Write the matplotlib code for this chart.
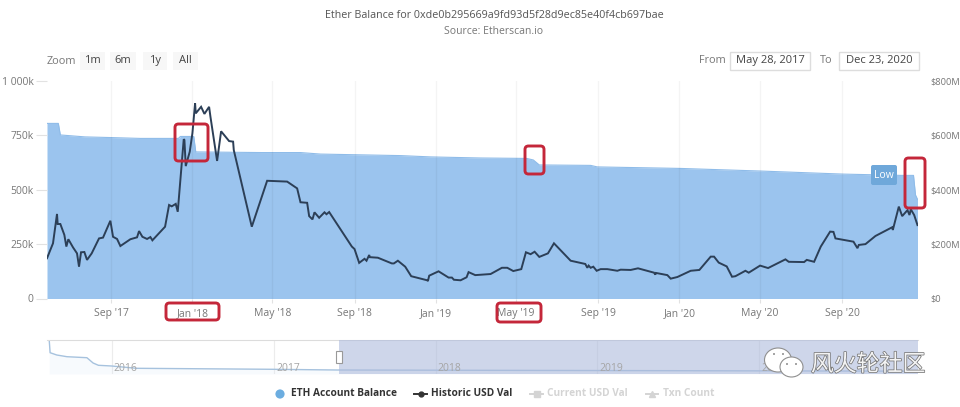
import datetime as dt
import matplotlib
matplotlib.use("Agg")
import matplotlib.pyplot as plt
from matplotlib.patches import FancyBboxPatch, Ellipse, Circle
from matplotlib.lines import Line2D
import matplotlib.patheffects as pe

plt.rcParams['font.family'] = ['Open Sans', 'Noto Sans CJK SC', 'DejaVu Sans']

TITLE = "Ether Balance for 0xde0b295669a9fd93d5f28d9ec85e40f4cb697bae"
SUBTITLE = "Source: Etherscan.io"
START = dt.date(2017, 5, 28)
NAV_START = dt.date(2016, 1, 1)

# days since START, ETH balance in thousands
balance_days = [0, 17, 20, 57, 95, 140, 197, 200, 220, 223, 320, 380, 410, 530, 575, 650, 719, 729, 738,
                815, 825, 950, 1070, 1193, 1280, 1299, 1302, 1305]
balance_k = [805, 805, 752, 743, 740, 736, 736, 745, 745, 674, 671, 671, 664, 657, 651, 646, 644, 637, 614,
             612, 605, 598, 586, 572, 566, 566, 476, 456]

# days since START, historic value in $M
usd_days = [0, 9, 15, 16, 20, 26, 29, 32, 39, 45, 48, 51, 56, 60, 67, 78, 84, 95, 99, 105, 110, 125, 135, 138,
            143, 150, 155, 158, 177, 183, 187, 193, 196, 205, 206, 208, 214, 218, 222, 223, 231, 236, 243, 245,
            255, 261, 273, 279, 280, 307, 330, 360, 375, 380, 390, 393, 398, 401, 408, 416, 419, 423, 457, 461,
            468, 476, 479, 483, 484, 496, 517, 520, 526, 537, 546, 570, 571, 573, 587, 602, 607, 610, 620, 629,
            632, 642, 660, 665, 682, 690, 699, 711, 718, 725, 731, 738, 751, 760, 785, 807, 810, 812, 815, 819,
            824, 830, 840, 855, 860, 875, 886, 910, 912, 913, 930, 935, 945, 965, 978, 995, 1000, 1007, 1019,
            1027, 1032, 1047, 1052, 1069, 1081, 1107, 1112, 1135, 1139, 1150, 1160, 1174, 1179, 1182, 1209,
            1215, 1217, 1227, 1242, 1267, 1268, 1277, 1282, 1290, 1293, 1295, 1300, 1305]
usd_m = [148, 203, 311, 274, 274, 234, 191, 218, 188, 166, 117, 170, 171, 142, 166, 221, 224, 286, 227, 219, 193,
         218, 225, 248, 227, 219, 226, 214, 264, 344, 339, 348, 319, 586, 583, 487, 540, 608, 718, 681, 705, 679,
         705, 669, 506, 615, 579, 577, 546, 264, 433, 430, 405, 354, 352, 303, 291, 317, 297, 317, 310, 318, 191,
         182, 131, 146, 139, 160, 152, 150, 129, 129, 139, 117, 82, 67, 64, 84, 100, 77, 77, 69, 67, 78, 97, 86,
         89, 90, 113, 113, 101, 108, 170, 163, 172, 153, 166, 203, 139, 127, 113, 121, 113, 117, 102, 108, 108,
         102, 106, 105, 111, 95, 88, 94, 86, 73, 79, 102, 105, 154, 154, 132, 118, 80, 82, 102, 95, 121, 112, 144,
         135, 134, 142, 135, 191, 246, 245, 221, 209, 185, 197, 200, 230, 262, 252, 338, 303, 325, 307, 328, 307, 270]

# navigator: days since NAV_START, balance in thousands
nav_days = [-141, -139, -124, -101, -56, -42, -30, 0, 56, 363, 507, 1818]
nav_k = [6834, 4281, 3819, 3477, 3276, 2211, 1749, 1608, 1146, 945, 804, 566]

x_ticks = ["2017-09-01", "2018-01-01", "2018-05-01", "2018-09-01", "2019-01-01", "2019-05-01", "2019-09-01",
           "2020-01-01", "2020-05-01", "2020-09-01"]
x_labels = ["Sep '17", "Jan '18", "May '18", "Sep '18", "Jan '19", "May '19", "Sep '19", "Jan '20", "May '20", "Sep '20"]
left_ticks = [0, 250, 500, 750, 1000]
left_labels = ["0", "250k", "500k", "750k", "1 000k"]
right_ticks = [0, 200, 400, 600, 800]
right_labels = ["$0", "$200M", "$400M", "$600M", "$800M"]
nav_years = [2016, 2017, 2018, 2019, 2020]

AREA = "#9bc4ee"
LINE = "#2c3f57"
GRAY = "#777777"
W, H = 960, 407


def days(base, seq):
    return [base + dt.timedelta(days=d) for d in seq]


def make_axes(l, t, r, b, **kw):
    return fig.add_axes([l / W, 1 - b / H, (r - l) / W, (b - t) / H], **kw)


fig = plt.figure(figsize=(9.6, 4.07), dpi=100, facecolor="white")

# main chart
ax = make_axes(47, 81, 917.5, 298.5)
ax.fill_between(days(START, balance_days), balance_k, 0, color=AREA, lw=0, zorder=1)
ax.plot(days(START, balance_days), balance_k, color="#8fbce9", lw=0.8, zorder=1.5)
ax.set_xlim(START, START + dt.timedelta(days=1305))
ax.set_ylim(0, 1000)
ax.set_yticks(left_ticks, left_labels)
ax.set_xticks([dt.date.fromisoformat(d) for d in x_ticks], x_labels)
ax.grid(axis="x", color="black", alpha=0.045, lw=1, zorder=2)
ax.tick_params(axis="y", length=8, width=0.8, color="#e2e2e2", labelsize=7.5, labelcolor=GRAY, pad=1.5)
ax.tick_params(axis="x", length=3, width=0.8, color="#e2e2e2", labelsize=7.5, labelcolor=GRAY, pad=4)
for s in ax.spines.values():
    s.set_visible(False)

ax2 = ax.twinx()
ax2.plot(days(START, usd_days), usd_m, color=LINE, lw=1.4, zorder=3, solid_joinstyle="miter")
ax2.set_ylim(0, 800)
ax2.set_yticks(right_ticks, right_labels)
ax2.tick_params(axis="y", length=0, labelsize=6.7, labelcolor=GRAY, pad=9.5)
for s in ax2.spines.values():
    s.set_visible(False)

# navigator
nav = make_axes(47, 340, 917.5, 374)
nav.fill_between(days(NAV_START, nav_days), nav_k, 0, color="#cfe1f5", alpha=0.15, lw=0)
nav.plot(days(NAV_START, nav_days), nav_k, color="#a6c2de", lw=1)
nav.set_xlim(NAV_START + dt.timedelta(days=-146), NAV_START + dt.timedelta(days=1818))
nav.set_ylim(0, 6834)
nav.set_yticks([])
nav.set_xticks([dt.date(y, 1, 1) for y in nav_years])
nav.set_xticklabels([])
nav.tick_params(axis="x", length=0)
nav.grid(axis="x", color="#ececec", lw=0.8)
nav.set_axisbelow(True)
for k, s in nav.spines.items():
    s.set_visible(k == "top")
    s.set_color("#dcdcdc")
nav.axvspan(START, START + dt.timedelta(days=1305), color="#aebbdc", alpha=0.6, lw=0, zorder=3)
for y in nav_years:
    nav.annotate(str(y), (dt.date(y, 1, 1), 0), xytext=(10, 0), textcoords="offset points", ha="center", va="bottom",
                 fontsize=7.5, color="#a5a5a5", zorder=4)

# overlay in pixel coordinates for page furniture
ov = fig.add_axes([0, 0, 1, 1], zorder=10)
ov.set_xlim(0, W)
ov.set_ylim(H, 0)
ov.axis("off")
ov.patch.set_alpha(0)


def box(l, t, r, b, fc="none", ec="none", lw=1, round_=0.0, z=5):
    style = f"round,pad=0,rounding_size={round_}" if round_ else "square,pad=0"
    ov.add_patch(FancyBboxPatch((l, t), r - l, b - t, boxstyle=style, fc=fc, ec=ec, lw=lw, zorder=z))


def label(x, y, s, size=7.5, color=GRAY, ha="center", weight="normal", **kw):
    return ov.text(x, y, s, fontsize=size, color=color, ha=ha, va="center", fontweight=weight, zorder=8, **kw)


label(494, 15, TITLE, 7.75, "#555555")
label(494, 31, SUBTITLE, 7.5, "#777777")

label(47, 61, "Zoom", 7.8, GRAY, ha="left")
for (l, r), s in zip([(80, 105), (110, 136), (143, 167), (173, 198)], ["1m", "6m", "1y", "All"]):
    box(l, 52, r, 70, fc="#f7f7f7")
    label((l + r) / 2, 60.5, s, 8, "#444444")

label(699, 60.5, "From", 7.8, GRAY, ha="left")
box(730, 52, 810, 70, fc="white", ec="#dddddd")
label(770, 60.5, "May 28, 2017", 8, "#444444")
label(820, 60.5, "To", 7.8, GRAY, ha="left")
box(839, 52, 919, 70, fc="white", ec="#dddddd")
label(879, 60.5, "Dec 23, 2020", 8, "#444444")

# Low flag
box(871, 165, 897, 185, fc="#6fa8da", round_=2)
label(884, 175, "Low", 7.5, "white")

# red highlight boxes
for l, t, r, b in [(175, 124, 208, 161), (525, 146, 544, 174), (905, 158, 925, 208),
                   (166, 303, 219, 320), (497, 303, 541, 322)]:
    box(l, t, r, b, ec="#c4273a", lw=2.1, round_=3.5, z=9)

# navigator handle
box(336, 351, 342, 363, fc="white", ec="#999999", lw=0.8)

# legend
ov.add_patch(Circle((280, 394), 4.6, fc="#6cade0", ec="none", zorder=8))
label(291, 394, "ETH Account Balance", 7.3, "#333333", ha="left", weight="bold")
ov.add_line(Line2D([414, 427], [394, 394], color="#333333", lw=1.4, zorder=8))
ov.add_line(Line2D([420.5], [394], color="#333333", marker="o", ms=3.5, zorder=8))
label(431, 394, "Historic USD Val", 7.3, "#333333", ha="left", weight="bold")
ov.add_line(Line2D([530, 543], [394, 394], color="#d4d4d4", lw=1.4, zorder=8))
ov.add_line(Line2D([536.5], [394], color="#d4d4d4", marker="s", ms=4.5, zorder=8))
label(547, 394, "Current USD Val", 7.3, "#d4d4d4", ha="left", weight="bold")
ov.add_line(Line2D([646, 658], [394, 394], color="#d4d4d4", lw=1.4, zorder=8))
ov.add_line(Line2D([652], [394], color="#d4d4d4", marker="^", ms=4.5, zorder=8))
label(663, 394, "Txn Count", 7.3, "#d4d4d4", ha="left", weight="bold")

# watermark
for cx, cy, w, h, eyes in [(778, 360, 27, 24, [(774, 354), (783, 354)]), (791.5, 367, 23, 20, [(787, 364), (796, 364)])]:
    ov.add_patch(Ellipse((cx, cy), w, h, fc="white", ec="#8f8f8f", lw=0.8, zorder=8))
    for ex, ey in eyes:
        ov.add_patch(Circle((ex, ey), 1, fc="#8f8f8f", ec="none", zorder=8.5))
wm = ov.text(868, 364.5, "风火轮社区", fontsize=16.5, color="#f4f4f4", ha="center", va="center", zorder=8,
             family=['Noto Sans CJK SC', 'DejaVu Sans'])
wm.set_path_effects([pe.withStroke(linewidth=1.1, foreground="#777777")])

fig.savefig("out.png", dpi=100)
